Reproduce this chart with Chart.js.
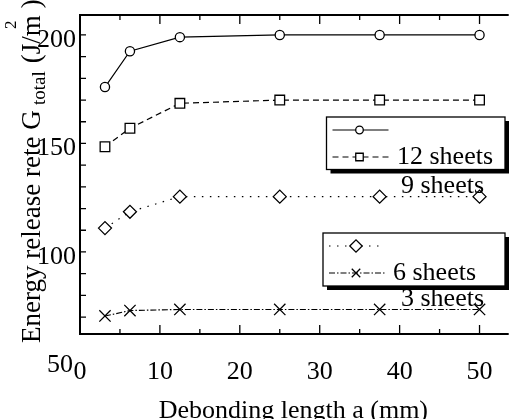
<!DOCTYPE html>
<html>
<head>
<meta charset="utf-8">
<script src="https://cdn.jsdelivr.net/npm/chart.js"></script>
<style>
  body { margin: 0; background: #fff; }
  canvas { display: block; }
</style>
</head>
<body>
<canvas id="gChart" width="516" height="419"></canvas>
<script>
// data
const debondLength = [3.125, 6.25, 12.5, 25, 37.5, 50];
const sheets12 = [176, 192.5, 199, 200, 200, 200];
const sheets9 = [148.5, 157, 168.5, 170, 170, 170];
const sheets6 = [111, 118.5, 125.5, 125.5, 125.5, 125.5];
const sheets3 = [70.5, 73, 73.5, 73.5, 73.5, 73.5];
const seriesLabels = ["12 sheets", "9 sheets", "6 sheets", "3 sheets"];
const yTickLabels = [50, 100, 150, 200];

const FONT = "'Liberation Serif', 'Times New Roman', serif";

function toPoints(values) {
  return values.map((v, i) => ({ x: debondLength[i], y: v }));
}

function drawMarker(ctx, style, x, y, r) {
  ctx.beginPath();
  if (style === "circle") {
    ctx.arc(x, y, r, 0, Math.PI * 2);
  } else if (style === "rect") {
    const s = r * Math.SQRT1_2;
    ctx.rect(x - s, y - s, 2 * s, 2 * s);
  } else if (style === "rectRot") {
    ctx.moveTo(x - r, y);
    ctx.lineTo(x, y - r);
    ctx.lineTo(x + r, y);
    ctx.lineTo(x, y + r);
    ctx.closePath();
  } else if (style === "crossRot") {
    const s = r * Math.SQRT1_2;
    ctx.moveTo(x - s, y - s);
    ctx.lineTo(x + s, y + s);
    ctx.moveTo(x - s, y + s);
    ctx.lineTo(x + s, y - s);
  }
  ctx.fill();
  ctx.stroke();
}

// axis frame with inward ticks
const framePlugin = {
  id: "frame",
  afterDatasetsDraw(chart) {
    const { ctx, chartArea: a, scales } = chart;
    const xs = scales.x, ys = scales.y;
    ctx.save();
    ctx.strokeStyle = "#000";
    ctx.lineWidth = 2;
    ctx.beginPath();
    ctx.moveTo(a.right + 2, a.top);
    ctx.lineTo(a.left, a.top);
    ctx.lineTo(a.left, a.bottom);
    ctx.lineTo(a.right + 2, a.bottom);
    ctx.stroke();

    ctx.lineWidth = 1.3;
    ctx.beginPath();
    for (let v = 5; v <= 50; v += 5) {
      const px = xs.getPixelForValue(v);
      const len = v % 10 === 0 ? 9 : 5;
      ctx.moveTo(px, a.top);
      ctx.lineTo(px, a.top + len);
      ctx.moveTo(px, a.bottom);
      ctx.lineTo(px, a.bottom - len);
    }
    ys.ticks.forEach((t) => {
      const py = ys.getPixelForValue(t.value);
      ctx.moveTo(a.left, py);
      ctx.lineTo(a.left + 6, py);
    });
    ctx.stroke();

    // the "50" label sits below the frame
    ctx.fillStyle = "#000";
    ctx.font = "26px " + FONT;
    ctx.textAlign = "right";
    ctx.textBaseline = "middle";
    ctx.fillText(String(yTickLabels[0]), 73, ys.getPixelForValue(yTickLabels[0]) + 5);
    ctx.restore();
  },
};

// rotated y title with sub/superscript
const yTitlePlugin = {
  id: "yTitle",
  afterDraw(chart) {
    const ctx = chart.ctx;
    ctx.save();
    ctx.translate(40, 343);
    ctx.rotate(-Math.PI / 2);
    ctx.fillStyle = "#000";
    ctx.textBaseline = "alphabetic";
    ctx.textAlign = "left";
    const parts = [
      { t: "Energy release rete G", size: 27, at: 0, dy: 0 },
      { t: "total", size: 19, at: 238, dy: 5 },
      { t: " (J/m", size: 27, at: 273, dy: 0 },
      { t: "2", size: 17, at: 314, dy: -24 },
      { t: " )", size: 27, at: 328, dy: 0 },
    ];
    parts.forEach((p) => {
      ctx.font = p.size + "px " + FONT;
      ctx.fillText(p.t, p.at, p.dy);
    });
    ctx.restore();
  },
};

// two boxed legends with shifted labels, like the original
const legendPlugin = {
  id: "boxLegend",
  afterDraw(chart) {
    const ctx = chart.ctx;
    const ds = chart.data.datasets;
    const boxes = [
      { x: 326.5, y: 117, w: 178.5, h: 52.5, rows: [130, 157], sets: [0, 1], text: [397, 164], below: [401, 193] },
      { x: 323, y: 233, w: 182, h: 53, rows: [246, 273], sets: [2, 3], text: [393, 280], below: [401, 306] },
    ];
    ctx.save();
    boxes.forEach((b) => {
      ctx.fillStyle = "#000";
      ctx.fillRect(b.x + 4, b.y + 4, b.w, b.h);
      ctx.fillStyle = "#fff";
      ctx.fillRect(b.x, b.y, b.w, b.h);
      ctx.strokeStyle = "#000";
      ctx.lineWidth = 1.3;
      ctx.strokeRect(b.x, b.y, b.w, b.h);

      b.sets.forEach((si, k) => {
        const d = ds[si];
        const ry = b.rows[k];
        ctx.lineWidth = d.borderWidth;
        ctx.setLineDash(d.borderDash || []);
        ctx.beginPath();
        ctx.moveTo(b.x + 6, ry);
        ctx.lineTo(b.x + 62, ry);
        ctx.stroke();
        ctx.setLineDash([]);
        ctx.fillStyle = "#fff";
        ctx.lineWidth = 1.3;
        drawMarker(ctx, d.pointStyle, b.x + 33, ry, d.legendRadius);
      });

      ctx.fillStyle = "#000";
      ctx.font = "26px " + FONT;
      ctx.textAlign = "left";
      ctx.textBaseline = "alphabetic";
      ctx.fillText(ds[b.sets[0]].label, b.text[0], b.text[1]);
      ctx.fillText(ds[b.sets[1]].label, b.below[0], b.below[1]);
    });
    ctx.restore();
  },
};

const common = {
  borderColor: "#000",
  borderWidth: 1.2,
  pointBackgroundColor: "#fff",
  pointBorderColor: "#000",
  pointBorderWidth: 1.3,
  fill: false,
  tension: 0,
};

new Chart(document.getElementById("gChart"), {
  type: "line",
  data: {
    datasets: [
      { ...common, label: seriesLabels[0], data: toPoints(sheets12), pointStyle: "circle", pointRadius: 4.6, legendRadius: 3.8 },
      { ...common, label: seriesLabels[1], data: toPoints(sheets9), pointStyle: "rect", pointRadius: 6.8, borderDash: [6, 4], legendRadius: 5.3 },
      { ...common, label: seriesLabels[2], data: toPoints(sheets6), pointStyle: "rectRot", pointRadius: 6.5, borderDash: [1.5, 6.5], legendRadius: 6.2 },
      { ...common, label: seriesLabels[3], data: toPoints(sheets3), pointStyle: "crossRot", pointRadius: 8, borderDash: [6, 2, 1.5, 2], legendRadius: 6 },
    ],
  },
  options: {
    responsive: false,
    animation: false,
    devicePixelRatio: 1,
    layout: { padding: { top: 15, right: 0, left: 0, bottom: 0 } },
    plugins: {
      legend: { display: false },
      tooltip: { enabled: false },
    },
    scales: {
      x: {
        type: "linear",
        min: 0,
        max: 53.4,
        grid: { display: false, drawTicks: false },
        border: { display: false },
        ticks: {
          stepSize: 10,
          includeBounds: false,
          autoSkip: false,
          maxRotation: 0,
          padding: 23,
          color: "#000",
          font: { family: FONT, size: 26 },
        },
        title: {
          display: true,
          text: "Debonding length a (mm)",
          color: "#000",
          padding: 0,
          font: { family: FONT, size: 26, lineHeight: 0.58 },
        },
        afterFit(scale) {
          scale.height = 85;
          scale.paddingLeft = 0;
          scale.paddingRight = 0;
        },
      },
      y: {
        min: 62.2,
        max: 209.2,
        grid: { display: false, drawTicks: false },
        border: { display: false },
        ticks: {
          stepSize: 10,
          includeBounds: false,
          autoSkip: false,
          padding: 4,
          labelOffset: 5,
          color: "#000",
          font: { family: FONT, size: 26 },
          callback: (v) => (yTickLabels.includes(v) ? v : ""),
        },
        afterFit(scale) {
          scale.width = 80;
          scale.paddingTop = 0;
          scale.paddingBottom = 0;
        },
      },
    },
  },
  plugins: [framePlugin, yTitlePlugin, legendPlugin],
});
</script>
</body>
</html>
